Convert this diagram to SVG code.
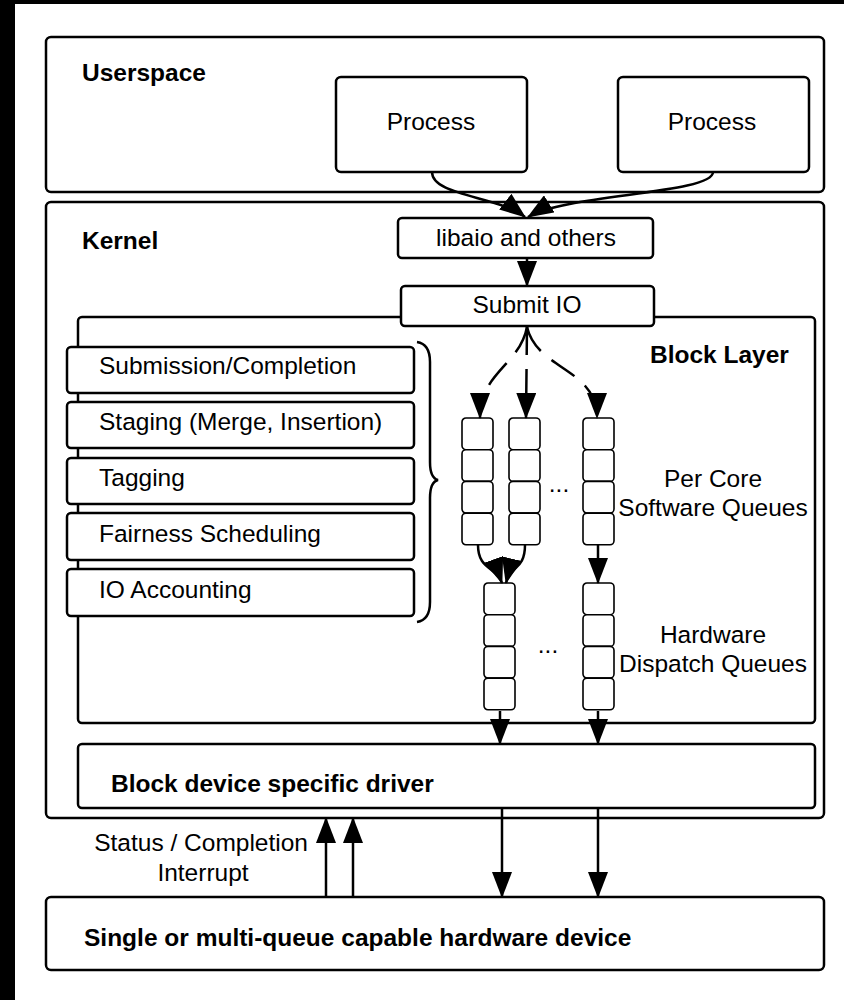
<svg xmlns="http://www.w3.org/2000/svg" width="844" height="1000" viewBox="0 0 844 1000">
<style>
.box{fill:#fff;stroke:#000;stroke-width:2.5}
.cell{fill:#fff;stroke:#000;stroke-width:1.6}
.t{font-family:"Liberation Sans",Arial,sans-serif;font-size:24.5px;fill:#000}
.b{font-weight:bold}
.c{text-anchor:middle}
.con{fill:none;stroke:#000;stroke-width:2.5}
.dash{stroke-dasharray:28 14}
</style>
<defs>
<marker id="ah" markerUnits="userSpaceOnUse" markerWidth="26" markerHeight="20" viewBox="0 0 26 20" refX="25" refY="10" orient="auto"><path d="M0,0 L26,10 L0,20 z" fill="#000"/></marker>
<g id="q4">
<rect class="cell" x="0" y="0" width="31" height="31.7" rx="4"/>
<rect class="cell" x="0" y="31.7" width="31" height="31.7" rx="4"/>
<rect class="cell" x="0" y="63.4" width="31" height="31.7" rx="4"/>
<rect class="cell" x="0" y="95.1" width="31" height="31.7" rx="4"/>
</g>
</defs>
<rect x="0" y="0" width="844" height="1000" fill="#000"/>
<rect x="15" y="4" width="829" height="996" fill="#fff"/>

<g id="userspace">
<rect class="box" x="46" y="37" width="778" height="155" rx="5"/>
<text class="t b" x="82" y="81">Userspace</text>
</g>
<g id="process1">
<rect class="box" x="336" y="77" width="191" height="95" rx="5"/>
<text class="t c" x="431" y="130">Process</text>
</g>
<g id="process2">
<rect class="box" x="618" y="77" width="191" height="95" rx="5"/>
<text class="t c" x="712" y="130">Process</text>
</g>
<g id="kernel">
<rect class="box" x="46" y="202" width="778" height="616" rx="5"/>
<text class="t b" x="82" y="249">Kernel</text>
</g>
<g id="libaio">
<rect class="box" x="398" y="218" width="255" height="40" rx="4"/>
<text class="t c" x="526" y="246">libaio and others</text>
</g>
<g id="blocklayer">
<rect class="box" x="78" y="317" width="737" height="406" rx="4"/>
<text class="t b" x="650" y="363">Block Layer</text>
</g>
<g id="submitio">
<rect class="box" x="401" y="286" width="253" height="40" rx="4"/>
<text class="t c" x="527" y="313">Submit IO</text>
</g>
<g id="submission">
<rect class="box" x="67" y="347" width="347" height="46" rx="4"/>
<text class="t" x="99" y="374">Submission/Completion</text>
</g>
<g id="staging">
<rect class="box" x="67" y="402" width="347" height="46" rx="4"/>
<text class="t" x="99" y="430">Staging (Merge, Insertion)</text>
</g>
<g id="tagging">
<rect class="box" x="67" y="458" width="347" height="46" rx="4"/>
<text class="t" x="99" y="486">Tagging</text>
</g>
<g id="fairness">
<rect class="box" x="67" y="513" width="347" height="47" rx="4"/>
<text class="t" x="99" y="542">Fairness Scheduling</text>
</g>
<g id="accounting">
<rect class="box" x="67" y="569" width="347" height="47" rx="4"/>
<text class="t" x="99" y="598">IO Accounting</text>
</g>
<g id="brace">
<path class="con" d="M417,342 Q430,344 430,362 L430,462 Q430,478 438,480 Q430,482 430,498 L430,602 Q430,620 417,622"/>
</g>
<g id="swqueues">
<use href="#q4" x="462" y="418"/>
<use href="#q4" x="509" y="418"/>
<use href="#q4" x="583" y="418"/>
<text class="t c" x="559" y="492">...</text>
<text class="t c" x="713" y="487">Per Core</text>
<text class="t c" x="713" y="516">Software Queues</text>
</g>
<g id="hwqueues">
<use href="#q4" x="484" y="583"/>
<use href="#q4" x="583" y="583"/>
<text class="t c" x="548" y="653">...</text>
<text class="t c" x="713" y="643">Hardware</text>
<text class="t c" x="713" y="672">Dispatch Queues</text>
</g>
<g id="driver">
<rect class="box" x="78" y="744" width="737" height="64" rx="4"/>
<text class="t b" x="111" y="792">Block device specific driver</text>
</g>
<g id="device">
<rect class="box" x="46" y="897" width="778" height="73" rx="5"/>
<text class="t b" x="84" y="946">Single or multi-queue capable hardware device</text>
</g>
<g id="statuslabel">
<text class="t" x="308" y="851" text-anchor="end">Status / Completion</text>
<text class="t c" x="203" y="881">Interrupt</text>
</g>

<g id="connectors">
<path class="con" d="M432,172 C432,196 498,196 525,217" marker-end="url(#ah)"/>
<path class="con" d="M713,172 C713,194 565,194 528,217" marker-end="url(#ah)"/>
<path class="con" d="M527,258 L527,286" marker-end="url(#ah)"/>
<path class="con dash" d="M527,327 C520,365 480,372 480,418" marker-end="url(#ah)"/>
<path class="con dash" d="M527,327 L526,418" marker-end="url(#ah)"/>
<path class="con dash" d="M527,327 C537,370 597,368 597,418" marker-end="url(#ah)"/>
<path class="con" d="M478,545 C478,570 496,566 502,583" marker-end="url(#ah)"/>
<path class="con" d="M525,545 C525,570 510,566 506,583" marker-end="url(#ah)"/>
<path class="con" d="M598,545 L598,583" marker-end="url(#ah)"/>
<path class="con" d="M500,711 L500,744" marker-end="url(#ah)"/>
<path class="con" d="M598,711 L598,744" marker-end="url(#ah)"/>
<path class="con" d="M502,808 L502,897" marker-end="url(#ah)"/>
<path class="con" d="M598,808 L598,897" marker-end="url(#ah)"/>
<path class="con" d="M326,897 L326,818" marker-end="url(#ah)"/>
<path class="con" d="M353,897 L353,818" marker-end="url(#ah)"/>
</g>
</svg>
